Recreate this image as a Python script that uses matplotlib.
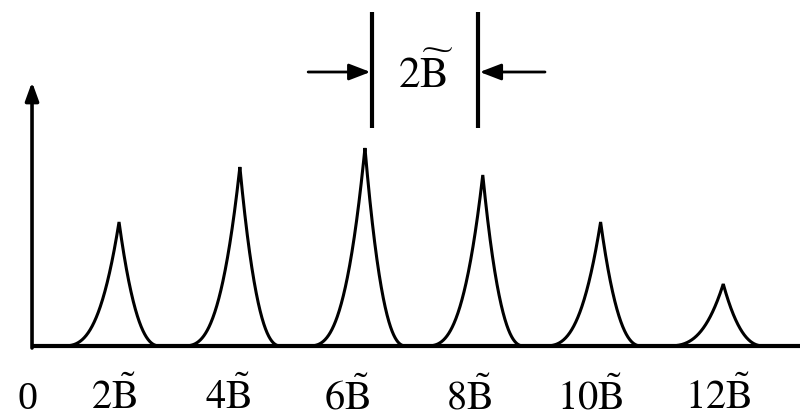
import matplotlib.pyplot as plt
import numpy as np

plt.rcParams['mathtext.fontset'] = 'stix'
plt.rcParams['font.family'] = ['Liberation Serif', 'DejaVu Serif']

# picos (posicao em unidades de B~ e altura relativa)
centros = [2, 4, 6, 8, 10, 12]
alturas = [1.24, 1.79, 1.98, 1.71, 1.24, 0.62]
deslocamento = [0.0, 0.0, 0.07, 0.02, -0.03, 0.0]

# rotulos do eixo x
rotulos = ['0', r'$2\tilde{\mathrm{B}}$', r'$4\tilde{\mathrm{B}}$', r'$6\tilde{\mathrm{B}}$',
           r'$8\tilde{\mathrm{B}}$', r'$10\tilde{\mathrm{B}}$', r'$12\tilde{\mathrm{B}}$']
pos_rotulos = [0.48, 1.92, 3.80, 5.78, 7.80, 9.79, 11.91]

fig = plt.figure(figsize=(8, 4.2), dpi=100)
ax = fig.add_axes([0, 0, 1, 1])
ax.set_xlim(0.03, 13.27)
ax.set_ylim(-0.74, 3.46)
ax.axis('off')

# eixos
x0 = 0.56
ax.plot([x0, 13.3], [0, 0], color='black', lw=3, solid_capstyle='butt')
ax.annotate('', xy=(x0, 2.64), xytext=(x0, -0.02),
            arrowprops=dict(arrowstyle='-|>,head_length=1.1,head_width=0.4',
                            color='black', lw=2.6, shrinkA=0, shrinkB=0))

# picos em forma de cuspide
for c, h, d in zip(centros, alturas, deslocamento):
    c = c + d
    wl, wr = 0.95, 0.68
    xl = np.linspace(c - wl, c, 200)
    xr = np.linspace(c, c + wr, 200)
    yl = h * (1 - (c - xl) / wl) ** 2.9
    yr = h * (1 - (xr - c) / wr) ** 2.4
    ax.plot(np.concatenate([xl, xr]), np.concatenate([yl, yr]),
            color='black', lw=2.2, solid_joinstyle='miter')

for p, r in zip(pos_rotulos, rotulos):
    ax.text(p, -0.63, r, ha='center', va='baseline', fontsize=29)

# marcacao da largura 2B~ no topo
xa, xb = 6.19, 7.94
for xv in [xa, xb]:
    ax.plot([xv, xv], [2.18, 3.34], color='black', lw=3, solid_capstyle='butt')
ya = 2.74
ax.annotate('', xy=(xa - 0.03, ya), xytext=(5.13, ya),
            arrowprops=dict(arrowstyle='-|>,head_length=1.3,head_width=0.5',
                            color='black', lw=2, shrinkA=0, shrinkB=0))
ax.annotate('', xy=(xb + 0.03, ya), xytext=(9.05, ya),
            arrowprops=dict(arrowstyle='-|>,head_length=1.3,head_width=0.5',
                            color='black', lw=2, shrinkA=0, shrinkB=0))
ax.text(7.07, 2.58, r'$2\widetilde{\mathrm{B}}$', ha='center', va='baseline', fontsize=31)

fig.savefig('out.png', dpi=100)
